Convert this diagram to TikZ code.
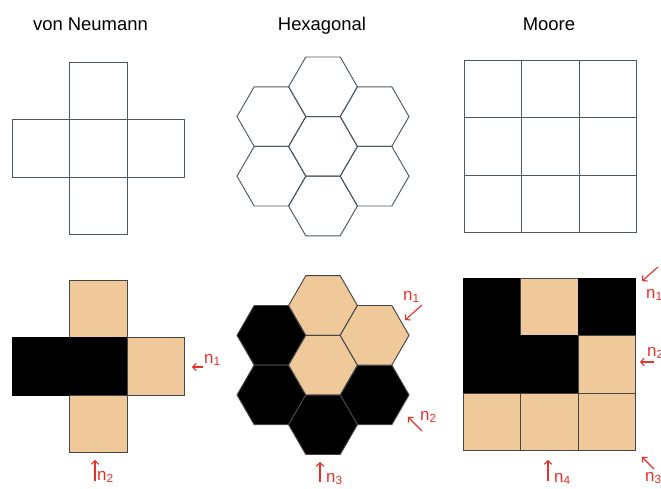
\documentclass[tikz,border=0pt]{standalone}
\usepackage{fontspec}
\setmainfont{Liberation Sans}
\usetikzlibrary{arrows.meta,shapes.geometric}

\definecolor{tancell}{RGB}{239,201,154}
\definecolor{gridline}{RGB}{78,88,98}
\definecolor{fillline}{RGB}{70,70,70}
\definecolor{pointer}{RGB}{232,48,40}

\begin{document}
\begin{tikzpicture}[x=1bp,y=-1bp,
  title/.style={font=\fontsize{18.5}{22}\selectfont, anchor=base, inner sep=0pt},
  sq/.style={draw=gridline, line width=0.95bp, minimum size=57.5bp, inner sep=0pt, outer sep=0pt},
  sqf/.style={draw=fillline, line width=0.95bp, minimum size=57.5bp, inner sep=0pt, outer sep=0pt},
  hexcell/.style={regular polygon, regular polygon sides=6, draw=gridline, line width=0.95bp,
    minimum size=68.8bp, inner sep=0pt, outer sep=0pt},
  hexf/.style={hexcell, draw=fillline},
  live/.style={fill=black},
  dead/.style={fill=tancell},
  ptr/.style={draw=pointer, line width=1.1bp, -{Straight Barb[length=3.5bp,width=7.5bp]}},
  lbl/.style={text=pointer, font=\fontsize{17}{20}\selectfont, anchor=base west, inner sep=0pt}
]
\useasboundingbox (0,0) rectangle (661,489);

% ---------- titles ----------
\node[title] (t-vn)  at (90.5,30.5) {von Neumann};
\node[title] (t-hex) at (322,30.5) {Hexagonal};
\node[title] (t-mo)  at (549,30.5) {Moore};

% ---------- von Neumann, empty ----------
\node[sq] (vn-t) at (98.25,90.75) {};
\node[sq] (vn-l) at (40.75,148.25) {};
\node[sq] (vn-c) at (98.25,148.25) {};
\node[sq] (vn-r) at (155.75,148.25) {};
\node[sq] (vn-b) at (98.25,205.75) {};

% ---------- von Neumann, filled ----------
\node[sqf,dead] (vnf-t) at (98.25,308.75) {};
\node[sqf,live,draw=black] (vnf-l) at (40.75,366.25) {};
\node[sqf,live,draw=black] (vnf-c) at (98.25,366.25) {};
\node[sqf,dead] (vnf-r) at (155.75,366.25) {};
\node[sqf,dead] (vnf-b) at (98.25,423.75) {};

% ---------- hexagonal, empty ----------
\node[hexcell] (hx-c1) at (323,86.8) {};
\node[hexcell] (hx-c2) at (323,146.4) {};
\node[hexcell] (hx-c3) at (323,206.0) {};
\node[hexcell] (hx-l1) at (271.4,116.6) {};
\node[hexcell] (hx-l2) at (271.4,176.2) {};
\node[hexcell] (hx-r1) at (374.6,116.6) {};
\node[hexcell] (hx-r2) at (374.6,176.2) {};

% ---------- hexagonal, filled ----------
\node[hexf,live] (hxf-l1) at (271.4,335.3) {};
\node[hexf,live] (hxf-l2) at (271.4,394.9) {};
\node[hexf,live] (hxf-r2) at (374.6,394.9) {};
\node[hexf,live] (hxf-c3) at (323,424.7) {};
\node[hexf,dead] (hxf-c1) at (323,305.5) {};
\node[hexf,dead] (hxf-c2) at (323,365.1) {};
\node[hexf,dead] (hxf-r1) at (374.6,335.3) {};

% ---------- Moore, empty ----------
\foreach \i/\x in {1/492.75,2/550.25,3/607.75}{
  \foreach \j/\y in {1/88.75,2/146.25,3/203.75}{
    \node[sq] (mo-\i\j) at (\x,\y) {};
  }
}

% ---------- Moore, filled ----------
\node[sqf,live,draw=black] (mof-11) at (491.75,306.75) {};
\node[sqf,dead] (mof-21) at (549.25,306.75) {};
\node[sqf,live,draw=black] (mof-31) at (606.75,306.75) {};
\node[sqf,live,draw=black] (mof-12) at (491.75,364.25) {};
\node[sqf,live,draw=black] (mof-22) at (549.25,364.25) {};
\node[sqf,dead] (mof-32) at (606.75,364.25) {};
\node[sqf,dead] (mof-13) at (491.75,421.75) {};
\node[sqf,dead] (mof-23) at (549.25,421.75) {};
\node[sqf,dead] (mof-33) at (606.75,421.75) {};

% ---------- pointers and their labels ----------
% von Neumann
\coordinate (p-vn1s) at (203,367); \coordinate (p-vn1e) at (192,367);
\draw[ptr] (p-vn1s) -- (p-vn1e);
\node[lbl] (l-vn1) at (204,363) {n\textsubscript{1}};
\coordinate (p-vn2s) at (95,481); \coordinate (p-vn2e) at (95,460);
\draw[ptr] (p-vn2s) -- (p-vn2e);
\node[lbl] (l-vn2) at (97,480) {n\textsubscript{2}};

% hexagonal
\coordinate (p-hx1s) at (422,305); \coordinate (p-hx1e) at (405,320);
\draw[ptr] (p-hx1s) -- (p-hx1e);
\node[lbl] (l-hx1) at (403,300) {n\textsubscript{1}};
\coordinate (p-hx2s) at (422,431); \coordinate (p-hx2e) at (408,417);
\draw[ptr] (p-hx2s) -- (p-hx2e);
\node[lbl] (l-hx2) at (420,420) {n\textsubscript{2}};
\coordinate (p-hx3s) at (320,482); \coordinate (p-hx3e) at (320,462);
\draw[ptr] (p-hx3s) -- (p-hx3e);
\node[lbl] (l-hx3) at (326,482) {n\textsubscript{3}};

% Moore
\coordinate (p-mo1s) at (658,267); \coordinate (p-mo1e) at (642,281);
\draw[ptr] (p-mo1s) -- (p-mo1e);
\node[lbl] (l-mo1) at (646,298) {n\textsubscript{1}};
\coordinate (p-mo2s) at (654,362); \coordinate (p-mo2e) at (640,362);
\draw[ptr] (p-mo2s) -- (p-mo2e);
\node[lbl] (l-mo2) at (647,356) {n\textsubscript{2}};
\coordinate (p-mo3s) at (654,469); \coordinate (p-mo3e) at (642,457);
\draw[ptr] (p-mo3s) -- (p-mo3e);
\node[lbl] (l-mo3) at (645,481) {n\textsubscript{3}};
\coordinate (p-mo4s) at (548,481); \coordinate (p-mo4e) at (548,460);
\draw[ptr] (p-mo4s) -- (p-mo4e);
\node[lbl] (l-mo4) at (554,482) {n\textsubscript{4}};
\end{tikzpicture}
\end{document}
